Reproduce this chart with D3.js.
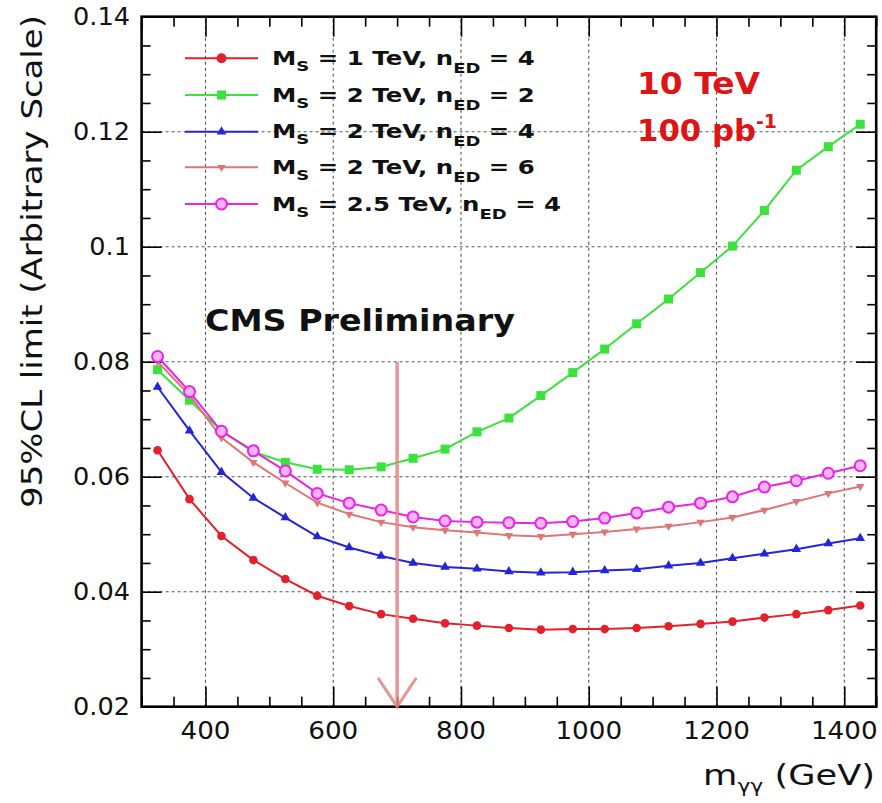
<!DOCTYPE html>
<html>
<head>
<meta charset="utf-8">
<script src="https://cdn.jsdelivr.net/npm/d3@7"></script>
<style>
body { margin:0; background:#fff; }
text { font-family: "DejaVu Sans", "Liberation Sans", sans-serif; }
</style>
</head>
<body>
<script>
// mass points (GeV)
var massPoints = [325,375,425,475,525,575,625,675,725,775,825,875,925,975,1025,1075,1125,1175,1225,1275,1325,1375,1425];

// 95% CL limits
var ms1n4  = [0.0646,0.0561,0.0497,0.0455,0.0422,0.0393,0.0375,0.0361,0.0353,0.0345,0.0341,0.0337,0.0334,0.0335,0.0335,0.0337,0.0340,0.0344,0.0348,0.0355,0.0361,0.0368,0.0376];
var ms2n2  = [0.0786,0.0733,0.0680,0.0643,0.0625,0.0613,0.0612,0.0617,0.0632,0.0648,0.0678,0.0702,0.0741,0.0781,0.0822,0.0866,0.0909,0.0955,0.1001,0.1063,0.1133,0.1174,0.1213];
var ms2n4  = [0.0756,0.0680,0.0608,0.0563,0.0529,0.0496,0.0477,0.0462,0.0450,0.0443,0.0440,0.0435,0.0433,0.0434,0.0437,0.0439,0.0445,0.0450,0.0458,0.0466,0.0474,0.0484,0.0493];
var ms2n6  = [0.0800,0.0742,0.0668,0.0625,0.0589,0.0555,0.0535,0.0521,0.0512,0.0507,0.0503,0.0498,0.0496,0.0500,0.0504,0.0509,0.0514,0.0521,0.0529,0.0542,0.0557,0.0571,0.0583];
var ms25n4 = [0.0809,0.0748,0.0679,0.0645,0.0610,0.0571,0.0554,0.0542,0.0530,0.0523,0.0521,0.0520,0.0519,0.0522,0.0528,0.0537,0.0547,0.0554,0.0565,0.0582,0.0593,0.0606,0.0619];

var seriesMs  = ["1","2","2","2","2.5"];
var seriesNed = ["4","2","4","6","4"];
var seriesVals = [ms1n4, ms2n2, ms2n4, ms2n6, ms25n4];

var xMajor = [400,600,800,1000,1200,1400];
var xMinor = [300,350,450,500,550,650,700,750,850,900,950,1050,1100,1150,1250,1300,1350,1450];
var yMajor = [0.02,0.04,0.06,0.08,0.10,0.12,0.14];
var yMajorLabels = ["0.02","0.04","0.06","0.08","0.1","0.12","0.14"];
var yMinor = [0.025,0.03,0.035,0.045,0.05,0.055,0.065,0.07,0.075,0.085,0.09,0.095,0.105,0.11,0.115,0.125,0.13,0.135];

var arrowMass = 700, arrowTop = 0.08, arrowBottom = 0.02;

var colors  = ['#e5202a','#3be23b','#2424d8','#e07575','#ea22ea'];
var markers = ['circle','square','triangle','tridown','ring'];

var W = 882, H = 803;
var pLeft = 141.6, pRight = 876.2, pTop = 16.7, pBottom = 706.7;

var x = d3.scaleLinear().domain([300,1450]).range([pLeft,pRight]);
var y = d3.scaleLinear().domain([0.02,0.14]).range([pBottom,pTop]);

var svg = d3.select('body').append('svg')
	.attr('width',W).attr('height',H);

svg.append('rect').attr('width',W).attr('height',H).attr('fill','#fff');

// helper: stretch a text horizontally so it is targetW wide
function stretch(sel, targetW, anchorX, anchorY, rot){
	var w = sel.node().getComputedTextLength();
	var s = targetW / w;
	sel.attr('transform','translate('+anchorX+','+anchorY+')'+(rot?' rotate('+rot+')':'')+' scale('+s+',1)');
	return s;
}

// grid
svg.append('g').selectAll('.vgrid').data(xMajor).enter()
	.append('line')
	.attr('class','vgrid')
	.attr('x1',function(d){return x(d);}).attr('x2',function(d){return x(d);})
	.attr('y1',y(0.02)).attr('y2',y(0.14))
	.attr('stroke','#555').attr('stroke-width',1.1)
	.attr('stroke-dasharray','3,3');
svg.append('g').selectAll('.hgrid').data(yMajor.slice(1,6)).enter()
	.append('line')
	.attr('class','hgrid')
	.attr('y1',function(d){return y(d);}).attr('y2',function(d){return y(d);})
	.attr('x1',x(300)).attr('x2',x(1450))
	.attr('stroke','#555').attr('stroke-width',1.1)
	.attr('stroke-dasharray','3,3');

// ticks on all four sides (inward)
function tickAxis(axis, vals, size, tx, ty){
	var g = svg.append('g')
		.attr('transform','translate('+tx+','+ty+')')
		.call(axis.tickValues(vals).tickSize(-size).tickFormat(''));
	g.select('.domain').remove();
	g.selectAll('line').attr('stroke','#000').attr('stroke-width',1.6);
	return g;
}
tickAxis(d3.axisBottom(x), xMajor, 20, 0, pBottom);
tickAxis(d3.axisBottom(x), xMinor, 10, 0, pBottom);
tickAxis(d3.axisTop(x), xMajor, 20, 0, pTop);
tickAxis(d3.axisTop(x), xMinor, 10, 0, pTop);
tickAxis(d3.axisLeft(y), yMajor, 20, pLeft, 0);
tickAxis(d3.axisLeft(y), yMinor, 9, pLeft, 0);
tickAxis(d3.axisRight(y), yMajor, 20, pRight, 0);
tickAxis(d3.axisRight(y), yMinor, 9, pRight, 0);

// frame
svg.append('rect')
	.attr('x',pLeft).attr('y',pTop)
	.attr('width',pRight-pLeft).attr('height',pBottom-pTop)
	.attr('fill','none').attr('stroke','#000').attr('stroke-width',2.6);

// tick labels
var yl = svg.selectAll('.ylab').data(yMajor).enter()
	.append('text')
	.attr('class','ylab')
	.attr('font-size','24px')
	.attr('fill','#111')
	.style('text-anchor','end')
	.attr('dy','0.35em')
	.text(function(d,i){return yMajorLabels[i];});
var sy = 57 / yl.filter(function(d){return d===0.14;}).node().getComputedTextLength();
yl.attr('transform',function(d){return 'translate(130,'+y(d)+') scale('+sy+',1)';});

var xl = svg.selectAll('.xlab').data(xMajor).enter()
	.append('text')
	.attr('class','xlab')
	.attr('font-size','25px')
	.attr('fill','#111')
	.style('text-anchor','middle')
	.text(function(d){return d;});
var sx = 50 / xl.filter(function(d){return d===400;}).node().getComputedTextLength();
xl.attr('transform',function(d){return 'translate('+x(d)+',739) scale('+sx+',1)';});

// axis titles
var yt = svg.append('text')
	.attr('font-size','29px')
	.attr('fill','#111')
	.style('text-anchor','middle')
	.text('95%CL limit (Arbitrary Scale)');
stretch(yt, 493, 42, 261.5, -90);

var xt = svg.append('text')
	.attr('font-size','29px')
	.attr('fill','#111')
	.style('text-anchor','end');
xt.append('tspan').text('m');
xt.append('tspan').attr('font-size','18px').attr('dy','7').text('\u03b3\u03b3');
xt.append('tspan').attr('dy','-7').text(' (GeV)');
stretch(xt, 172, 875, 785);

// series lines + markers
var line = d3.line()
	.x(function(d){return x(d.m);})
	.y(function(d){return y(d.v);});

function drawMarker(g, k, cx, cy, big){
	var c = colors[k];
	if (markers[k]==='circle'){
		g.append('circle').attr('cx',cx).attr('cy',cy).attr('r',big?5:4.3).attr('fill',c);
	} else if (markers[k]==='square'){
		g.append('rect').attr('x',cx-4.5).attr('y',cy-4.5).attr('width',9).attr('height',9).attr('fill',c);
	} else if (markers[k]==='triangle'){
		g.append('path').attr('d',d3.symbol().type(d3.symbolTriangle).size(40)())
			.attr('transform','translate('+cx+','+cy+')').attr('fill',c);
	} else if (markers[k]==='tridown'){
		g.append('path').attr('d',d3.symbol().type(d3.symbolTriangle).size(30)())
			.attr('transform','translate('+cx+','+cy+') rotate(180)').attr('fill',c);
	} else {
		g.append('circle').attr('cx',cx).attr('cy',cy).attr('r',5.5)
			.attr('fill','#f4b4f4').attr('stroke',c).attr('stroke-width',2);
	}
}

seriesVals.forEach(function(vals,k){
	var pts = vals.map(function(v,i){return {m:massPoints[i], v:v};});
	var g = svg.append('g').attr('class','series'+k);
	g.append('path')
		.datum(pts)
		.attr('d',line)
		.attr('fill','none')
		.attr('stroke',colors[k])
		.attr('stroke-width',2);
	pts.forEach(function(p){ drawMarker(g, k, x(p.m), y(p.v)); });
});

// arrow at 700 GeV
var arrowG = svg.append('g').attr('opacity',0.85);
arrowG.append('line')
	.attr('x1',x(arrowMass)).attr('x2',x(arrowMass))
	.attr('y1',y(arrowTop)).attr('y2',y(arrowBottom))
	.attr('stroke','#e48484').attr('stroke-width',3.5);
arrowG.append('path')
	.attr('d','M'+x(arrowMass-30)+','+y(arrowBottom+0.005)+'L'+x(arrowMass)+','+y(arrowBottom)+'L'+x(arrowMass+30)+','+y(arrowBottom+0.005))
	.attr('fill','none').attr('stroke','#e48484').attr('stroke-width',3);

// legend
var legRowY = [58.3, 95, 131.7, 167.3, 204];
var legS = null;
seriesVals.forEach(function(vals,k){
	var g = svg.append('g').attr('class','leg'+k);
	g.append('line')
		.attr('x1',185).attr('x2',258)
		.attr('y1',legRowY[k]).attr('y2',legRowY[k])
		.attr('stroke',colors[k]).attr('stroke-width',2);
	drawMarker(g, k, 221.5, legRowY[k], true);
	var t = g.append('text')
		.attr('font-size','19px')
		.attr('font-weight','bold')
		.attr('fill','#111');
	t.append('tspan').text('M');
	t.append('tspan').attr('font-size','14px').attr('dy','6').text('S');
	t.append('tspan').attr('dy','-6').text(' = '+seriesMs[k]+' TeV, n');
	t.append('tspan').attr('font-size','14px').attr('dy','8').text('ED');
	t.append('tspan').attr('dy','-8').text(' = '+seriesNed[k]);
	if (legS===null) legS = 263 / t.node().getComputedTextLength();
	t.attr('transform','translate(272,'+(legRowY[k]+6.5)+') scale('+legS+',1)');
});

// annotations
var cms = svg.append('text')
	.attr('font-size','30px').attr('font-weight','bold').attr('fill','#111')
	.text('CMS Preliminary');
stretch(cms, 310, 205, 331);

var e1 = svg.append('text')
	.attr('font-size','31px').attr('font-weight','bold').attr('fill','#dd1515')
	.text('10 TeV');
stretch(e1, 123, 637, 94);

var e2 = svg.append('text')
	.attr('font-size','31px').attr('font-weight','bold').attr('fill','#dd1515');
e2.append('tspan').text('100 pb');
e2.append('tspan').attr('font-size','19px').attr('dy','-13').text('-1');
stretch(e2, 140, 637, 141);
</script>
</body>
</html>
